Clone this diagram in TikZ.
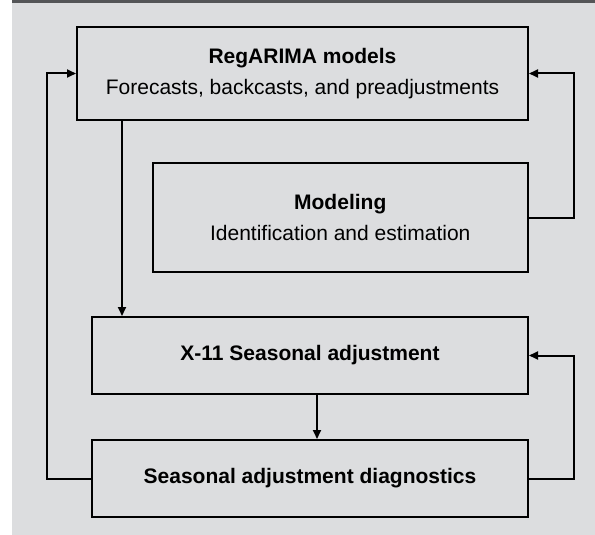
\documentclass[tikz,border=0pt]{standalone}
\usepackage{fontspec}
\setmainfont{Liberation Sans}
\usetikzlibrary{arrows.meta}
\definecolor{panelgray}{HTML}{DCDDDF}
\definecolor{bargray}{HTML}{545557}
\tikzset{
	flowbox/.style={draw,line width=2pt,rectangle,align=center,inner sep=0pt,
		font=\fontsize{21}{31}\selectfont},
	flowline/.style={line width=2pt,->,>={Triangle[length=9pt,width=8pt]}}
}

\begin{document}
\begin{tikzpicture}[x=1pt,y=-1pt]
	%BACKGROUND
	\useasboundingbox (0,0) rectangle (595,535);
	\fill[panelgray] (12,0) rectangle (595,535);
	\fill[bargray] (12,0) rectangle (595,3.5);
	
	%BOXES
	\node[flowbox,minimum width=451pt,minimum height=93pt] (regarima) at (302.5,73.5) {\textbf{RegARIMA models}\\Forecasts, backcasts, and preadjustments};
	\node[flowbox,minimum width=375.5pt,minimum height=109pt] (modeling) at (340.25,217.5) {\textbf{Modeling}\\Identification and estimation};
	\node[flowbox,minimum width=436pt,minimum height=77pt] (xeleven) at (310,355.5) {\textbf{X-11 Seasonal adjustment}};
	\node[flowbox,minimum width=436pt,minimum height=77pt] (diagnostics) at (310,478.5) {\textbf{Seasonal adjustment diagnostics}};
	%
	\coordinate (leftdrop) at (122,0);
	\coordinate (middrop) at (317,0);
	
	%CONNECTORS
	\draw[flowline] (regarima.south -| leftdrop) -- (xeleven.north -| leftdrop);
	\draw[flowline] (xeleven.south -| middrop) -- (diagnostics.north -| middrop);
	\draw[flowline] (modeling.east) -- ++(45,0) |- (regarima.east);
	\draw[flowline] (diagnostics.east) -- ++(45,0) |- (xeleven.east);
	\draw[flowline] (diagnostics.west) -- ++(-44,0) |- (regarima.west);
\end{tikzpicture}
\end{document}
